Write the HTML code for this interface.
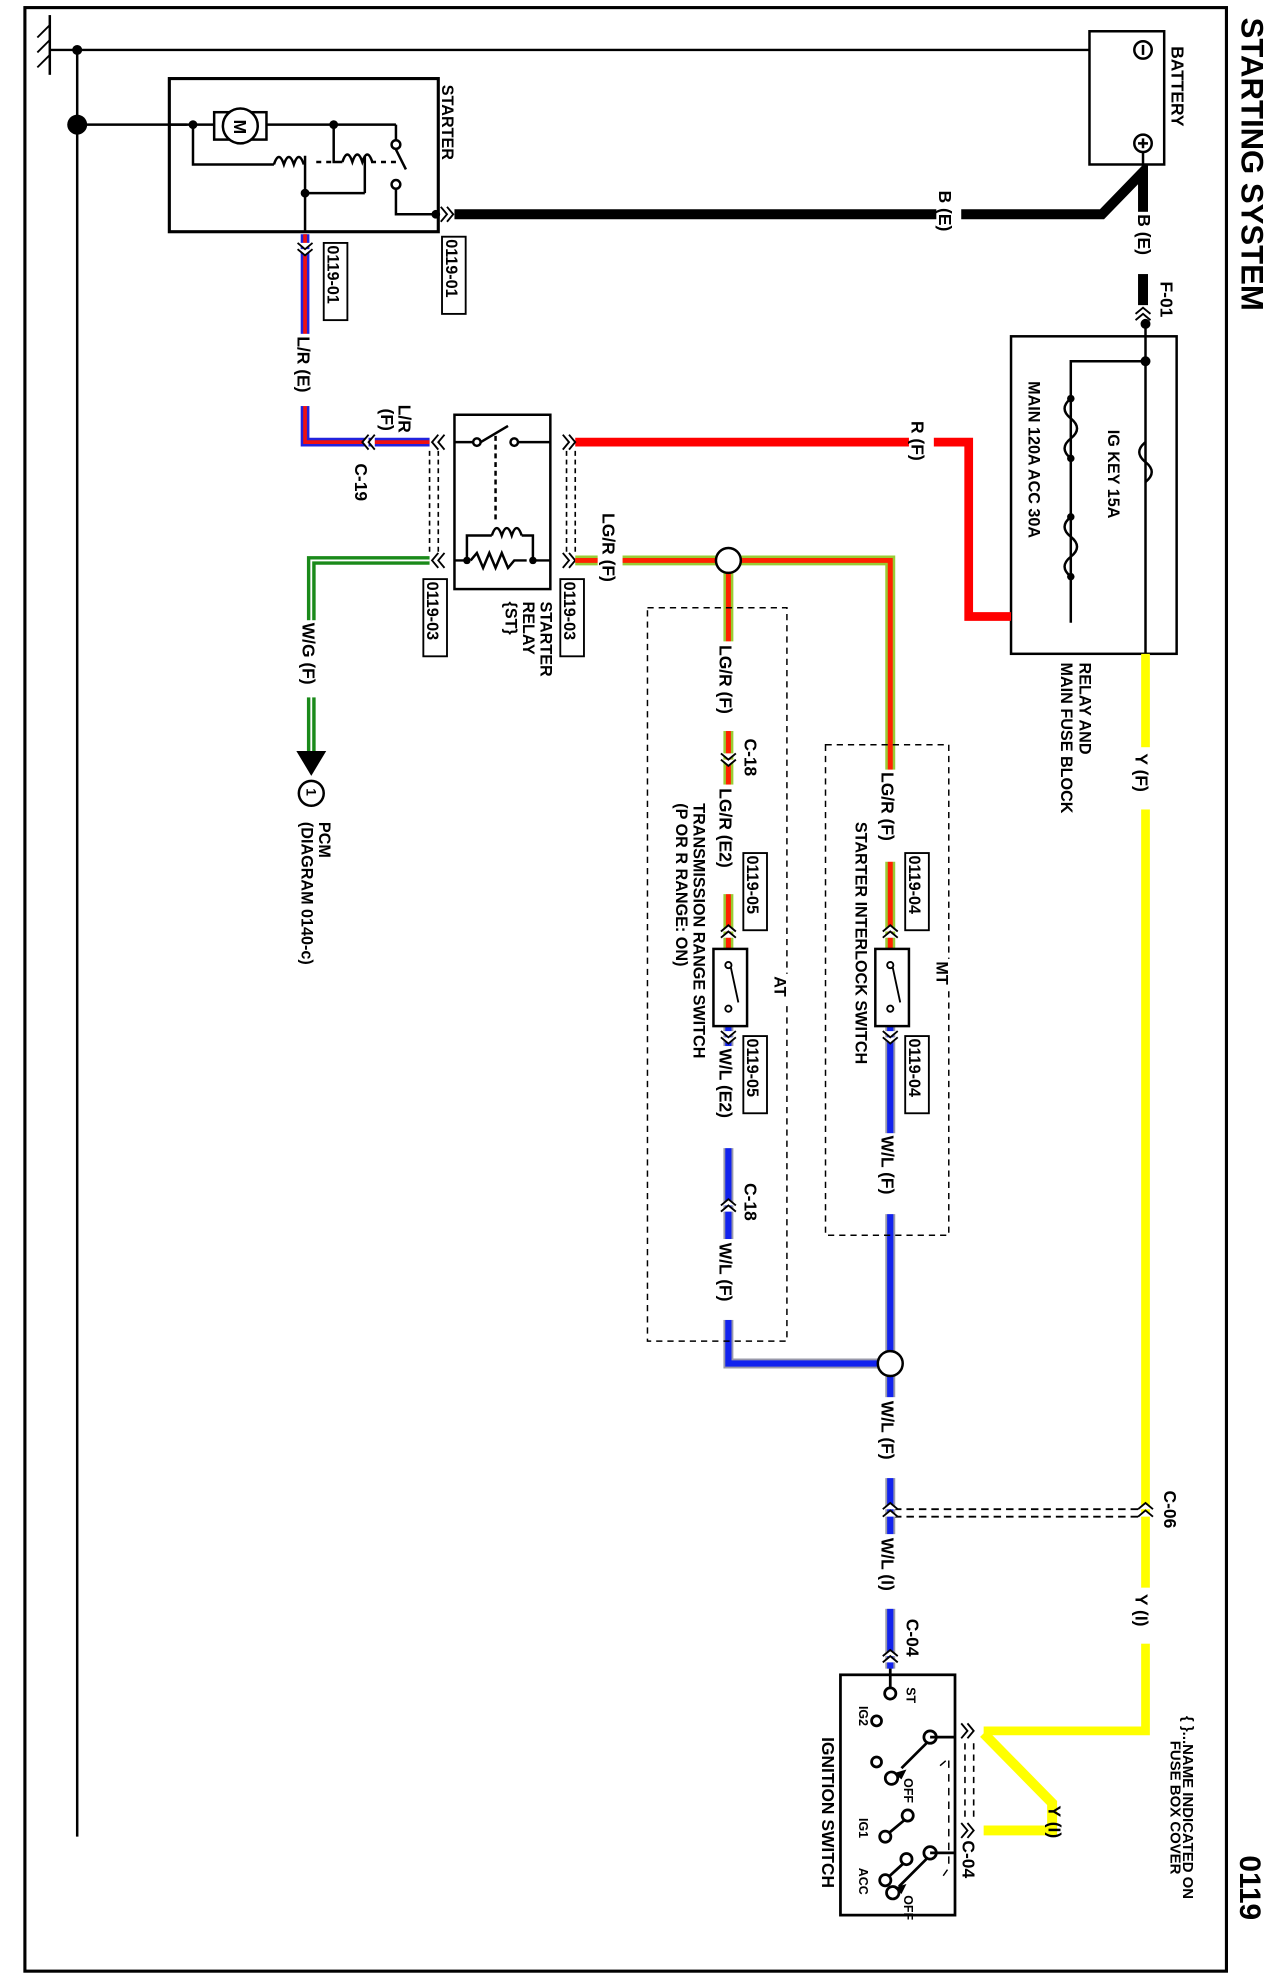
<!DOCTYPE html>
<html><head><meta charset="utf-8"><style>
html,body{margin:0;padding:0;background:#fff}
svg{display:block}
text{font-family:"Liberation Sans",Arial,sans-serif;font-weight:bold;fill:#000}
</style></head><body>
<svg width="1275" height="1980" viewBox="0 0 1024 1590" xmlns="http://www.w3.org/2000/svg">
<rect x="0" y="0" width="1024" height="1590" fill="#fff"/>
<rect x="20" y="6" width="965" height="1577" fill="none" stroke="#000" stroke-width="2.5"/>
<text transform="translate(997,14) rotate(90)" font-size="25" font-weight="normal">STARTING SYSTEM</text>
<text transform="translate(996,1490) rotate(90)" font-size="24" font-weight="normal">0119</text>

<line x1="40" y1="12" x2="40" y2="60" stroke="#000" stroke-width="2"/>
<line x1="40" y1="20" x2="30" y2="30" stroke="#000" stroke-width="1.5"/>
<line x1="40" y1="32" x2="30" y2="42" stroke="#000" stroke-width="1.5"/>
<line x1="40" y1="44" x2="30" y2="54" stroke="#000" stroke-width="1.5"/>
<line x1="40" y1="40" x2="905" y2="40" stroke="#000" stroke-width="2"/>
<line x1="62" y1="40" x2="62" y2="1475" stroke="#000" stroke-width="2"/>
<circle cx="62" cy="40" r="4"/>
<circle cx="62" cy="100" r="8"/>
<line x1="62" y1="100" x2="150" y2="100" stroke="#000" stroke-width="2"/>

<rect x="136" y="63" width="216" height="123" fill="none" stroke="#000" stroke-width="2.5"/>
<text transform="translate(355,68) rotate(90)" font-size="13">STARTER</text>
<g stroke="#000" stroke-width="2" fill="none">
<line x1="136" y1="100" x2="172" y2="100"/>
<rect x="172" y="90" width="42" height="22" fill="#fff"/>
<circle cx="193" cy="101" r="14" fill="#fff"/>
<line x1="214" y1="100" x2="318" y2="100"/>
<line x1="318" y1="100" x2="318" y2="112"/>
<circle cx="318" cy="116" r="3.5"/>
<line x1="318" y1="120" x2="326" y2="136"/>
<circle cx="318" cy="148" r="3.5"/>
<polyline points="318,152 318,172 350,172"/>
<polyline points="155,100 155,132 220,132"/>
<path d="M220,132 q4,-12 8,0 q4,-12 8,0 q4,-12 8,0"/>
<line x1="245" y1="125" x2="245" y2="186"/>
<line x1="245" y1="155" x2="293" y2="155"/>
<polyline points="268,100 268,130 275,130"/>
<path d="M275,130 q4,-12 8,0 q4,-12 8,0 q4,-12 8,0"/>
<polyline points="293,125 293,155"/>
<line x1="254" y1="130" x2="268" y2="130" stroke-dasharray="4,4"/>
<line x1="298" y1="130" x2="318" y2="130" stroke-dasharray="4,4"/>
</g>
<text transform="translate(188,96) rotate(90)" font-size="14" font-weight="normal">M</text>
<circle cx="155" cy="100" r="3.5"/><circle cx="268" cy="100" r="3.5"/><circle cx="245" cy="155" r="3.5"/>
<circle cx="350" cy="172" r="3.5"/>

<polyline points="365,172 885,172 918,138 918,245" fill="none" stroke="#000" stroke-width="8"/>
<path d="M354,166 l5,6 l-5,6 M359,166 l5,6 l-5,6" stroke="#000" fill="none" stroke-width="1.5"/>
<rect x="752" y="150" width="20" height="50" fill="#fff"/>
<text transform="translate(754,153) rotate(90)" font-size="14">B (E)</text>
<rect x="912" y="170" width="20" height="50" fill="#fff"/>
<text transform="translate(914,172) rotate(90)" font-size="14">B (E)</text>
<rect x="355" y="190" width="19" height="62" fill="#fff" stroke="#000" stroke-width="1.5"/>
<text transform="translate(358,192) rotate(90)" font-size="13">0119-01</text>

<rect x="875" y="25" width="60" height="107" fill="#fff" stroke="#000" stroke-width="2"/>
<circle cx="918" cy="40" r="7" fill="#fff" stroke="#000" stroke-width="2"/>
<line x1="918" y1="36" x2="918" y2="44" stroke="#000" stroke-width="2"/>
<circle cx="918" cy="115" r="7" fill="#fff" stroke="#000" stroke-width="2"/>
<path d="M914,115 h8 M918,111 v8" stroke="#000" stroke-width="2"/>
<line x1="918" y1="122" x2="918" y2="138" stroke="#000" stroke-width="2"/>
<text transform="translate(941,37) rotate(90)" font-size="14">BATTERY</text>
<path d="M912,252 l6,-5 l6,5 M912,257 l6,-5 l6,5" stroke="#000" fill="none" stroke-width="1.5"/>
<text transform="translate(932,226) rotate(90)" font-size="14">F-01</text>

<rect x="812" y="270" width="133" height="255" fill="none" stroke="#000" stroke-width="2"/>
<g stroke="#000" stroke-width="2" fill="none">
<line x1="920" y1="258" x2="920" y2="525"/>
<polyline points="920,290 860,290 860,500"/>
<path d="M920,355 q-10,8 0,16 q10,8 0,16"/>
</g>
<circle cx="920" cy="260" r="4"/><circle cx="920" cy="290" r="4"/>
<g stroke="#000" stroke-width="2" fill="none">
<path d="M860,320 q-10,8 0,16 q10,8 0,16 q-10,8 0,16"/>
<path d="M860,415 q-10,8 0,16 q10,8 0,16 q-10,8 0,16"/>
</g>
<circle cx="860" cy="320" r="3"/><circle cx="860" cy="368" r="3"/><circle cx="860" cy="415" r="3"/><circle cx="860" cy="463" r="3"/>
<text transform="translate(890,345) rotate(90)" font-size="13">IG KEY  15A</text>
<text transform="translate(826,306) rotate(90)" font-size="13">MAIN  120A     ACC  30A</text>
<text transform="translate(867,532) rotate(90)" font-size="13">RELAY AND</text>
<text transform="translate(852,532) rotate(90)" font-size="13">MAIN FUSE BLOCK</text>

<polyline points="812,495 778,495 778,355 462,355" fill="none" stroke="#f00" stroke-width="7"/>
<rect x="730" y="335" width="20" height="45" fill="#fff"/>
<text transform="translate(732,338) rotate(90)" font-size="14">R (F)</text>

<polyline points="920,525 920,1390 790,1390" fill="none" stroke="#ff0" stroke-width="7"/>
<polyline points="790,1392 845,1448 845,1470 790,1470" fill="none" stroke="#ff0" stroke-width="8"/>
<rect x="905" y="600" width="28" height="50" fill="#fff"/>
<text transform="translate(912,605) rotate(90)" font-size="14">Y (F)</text>
<rect x="905" y="1275" width="28" height="45" fill="#fff"/>
<text transform="translate(912,1280) rotate(90)" font-size="14">Y (I)</text>
<path d="M914,1212 l6,-5 l6,5 M914,1218 l6,-5 l6,5" stroke="#000" fill="#fff" stroke-width="1.5"/>
<text transform="translate(935,1197) rotate(90)" font-size="14">C-06</text>
<line x1="718" y1="1212" x2="918" y2="1212" stroke="#000" stroke-width="1.5" stroke-dasharray="6,4"/>
<line x1="718" y1="1218" x2="918" y2="1218" stroke="#000" stroke-width="1.5" stroke-dasharray="6,4"/>
<text transform="translate(842,1450) rotate(90)" font-size="14">Y (I)</text>

<rect x="365" y="333" width="77" height="140" fill="#fff" stroke="#000" stroke-width="2"/>
<g stroke="#000" stroke-width="2" fill="none">
<line x1="365" y1="355" x2="380" y2="355"/>
<circle cx="383" cy="355" r="3"/>
<line x1="386" y1="355" x2="408" y2="342"/>
<circle cx="413" cy="355" r="3"/>
<line x1="416" y1="355" x2="442" y2="355"/>
<line x1="398" y1="350" x2="398" y2="420" stroke-dasharray="4,3"/>
<polyline points="365,450 375,450 375,430 395,430"/>
<path d="M395,430 q4,-12 8,0 q4,-12 8,0 q4,-12 8,0"/>
<polyline points="419,430 428,430 428,450 442,450"/>
<path d="M378,450 l5,-6 l5,12 l5,-12 l5,12 l5,-12 l5,12 l5,-6 l10,0"/>
</g>
<circle cx="375" cy="450" r="3"/><circle cx="428" cy="450" r="3"/>
<text transform="translate(434,483) rotate(90)" font-size="13">STARTER</text>
<text transform="translate(420,483) rotate(90)" font-size="13">RELAY</text>
<text transform="translate(406,483) rotate(90)" font-size="13">{ST}</text>
<g stroke="#000" stroke-width="1.3" stroke-dasharray="4,3">
<line x1="345" y1="362" x2="345" y2="445"/><line x1="352" y1="362" x2="352" y2="445"/>
<line x1="455" y1="362" x2="455" y2="445"/><line x1="462" y1="362" x2="462" y2="445"/>
</g>
<path d="M452,349 l5,6 l-5,6 M457,349 l5,6 l-5,6 M452,444 l5,6 l-5,6 M457,444 l5,6 l-5,6" stroke="#000" fill="none" stroke-width="1.5"/>
<path d="M352,349 l-5,6 l5,6 M357,349 l-5,6 l5,6 M352,444 l-5,6 l5,6 M357,444 l-5,6 l5,6" stroke="#000" fill="none" stroke-width="1.5"/>
<rect x="450" y="465" width="19" height="62" fill="#fff" stroke="#000" stroke-width="1.5"/>
<text transform="translate(453,467) rotate(90)" font-size="13">0119-03</text>
<rect x="340" y="465" width="19" height="62" fill="#fff" stroke="#000" stroke-width="1.5"/>
<text transform="translate(343,467) rotate(90)" font-size="13">0119-03</text>

<polyline points="245,188 245,355 345,355" fill="none" stroke="#22d" stroke-width="7"/>
<polyline points="245,188 245,355 345,355" fill="none" stroke="#e11" stroke-width="3"/>
<path d="M239,195 l6,5 l6,-5 M239,200 l6,5 l6,-5" stroke="#000" fill="#fff" stroke-width="1.5"/>
<path d="M296,349 l-5,6 l5,6 M301,349 l-5,6 l5,6" stroke="#000" fill="#fff" stroke-width="1.5"/>
<rect x="260" y="195" width="19" height="62" fill="#fff" stroke="#000" stroke-width="1.5"/>
<text transform="translate(263,197) rotate(90)" font-size="13">0119-01</text>
<rect x="236" y="268" width="20" height="58" fill="#fff"/>
<text transform="translate(239,270) rotate(90)" font-size="14">L/R (E)</text>
<text transform="translate(320,325) rotate(90)" font-size="14">L/R</text>
<text transform="translate(306,328) rotate(90)" font-size="14">(F)</text>
<text transform="translate(285,372) rotate(90)" font-size="14">C-19</text>

<polyline points="345,450 250,450 250,605" fill="none" stroke="#1a8a1a" stroke-width="7"/>
<polyline points="345,450 250,450 250,605" fill="none" stroke="#fff" stroke-width="1.5"/>
<path d="M238,603 h24 l-12,20 z"/>
<circle cx="250" cy="637" r="10" fill="#fff" stroke="#000" stroke-width="2"/>
<text transform="translate(246,633) rotate(90)" font-size="11">1</text>
<rect x="240" y="498" width="20" height="62" fill="#fff"/>
<text transform="translate(243,500) rotate(90)" font-size="14">W/G (F)</text>
<text transform="translate(256,660) rotate(90)" font-size="13">PCM</text>
<text transform="translate(242,660) rotate(90)" font-size="13">(DIAGRAM 0140-c)</text>

<g fill="none">
<polyline points="462,450 715,450 715,770" stroke="#9c3" stroke-width="8"/>
<polyline points="462,450 715,450 715,770" stroke="#f20" stroke-width="4"/>
<polyline points="585,450 585,770" stroke="#9c3" stroke-width="8"/>
<polyline points="585,450 585,770" stroke="#f20" stroke-width="4"/>
<polyline points="715,820 715,1340" stroke="#99a" stroke-width="8"/>
<polyline points="715,820 715,1340" stroke="#12e" stroke-width="5"/>
<polyline points="585,820 585,1095 715,1095" stroke="#99a" stroke-width="8"/>
<polyline points="585,820 585,1095 715,1095" stroke="#12e" stroke-width="5"/>
</g>
<circle cx="585" cy="450" r="10" fill="#fff" stroke="#000" stroke-width="2"/>
<circle cx="715" cy="1095" r="10" fill="#fff" stroke="#000" stroke-width="2"/>
<rect x="480" y="410" width="20" height="72" fill="#fff"/>
<text transform="translate(484,412) rotate(90)" font-size="14">LG/R (F)</text>

<rect x="520" y="488" width="112" height="589" fill="none" stroke="#000" stroke-width="1.2" stroke-dasharray="5,4"/>
<rect x="663" y="598" width="99" height="394" fill="none" stroke="#000" stroke-width="1.2" stroke-dasharray="5,4"/>
<rect x="750" y="770" width="20" height="25" fill="#fff"/>
<text transform="translate(752,772) rotate(90)" font-size="13">MT</text>
<rect x="620" y="782" width="20" height="25" fill="#fff"/>
<text transform="translate(622,784) rotate(90)" font-size="13">AT</text>

<rect x="574" y="515" width="22" height="72" fill="#fff"/>
<text transform="translate(578,518) rotate(90)" font-size="14">LG/R (F)</text>
<path d="M579,605 l6,5 l6,-5 M579,610 l6,5 l6,-5" stroke="#000" fill="#fff" stroke-width="1.5"/>
<text transform="translate(598,593) rotate(90)" font-size="14">C-18</text>
<rect x="574" y="630" width="22" height="88" fill="#fff"/>
<text transform="translate(578,633) rotate(90)" font-size="14">LG/R (E2)</text>
<path d="M579,748 l6,-5 l6,5 M579,753 l6,-5 l6,5" stroke="#000" fill="#fff" stroke-width="1.5"/>
<rect x="597" y="685" width="19" height="62" fill="#fff" stroke="#000" stroke-width="1.5"/>
<text transform="translate(600,687) rotate(90)" font-size="13">0119-05</text>
<rect x="573" y="762" width="27" height="62" fill="#fff" stroke="#000" stroke-width="2"/>
<g stroke="#000" stroke-width="1.5" fill="none"><circle cx="585" cy="775" r="2.5"/><line x1="587" y1="777" x2="593" y2="805"/><circle cx="585" cy="810" r="2.5"/></g>
<path d="M579,828 l6,5 l6,-5 M579,833 l6,5 l6,-5" stroke="#000" fill="#fff" stroke-width="1.5"/>
<rect x="597" y="832" width="19" height="62" fill="#fff" stroke="#000" stroke-width="1.5"/>
<text transform="translate(600,834) rotate(90)" font-size="13">0119-05</text>
<rect x="574" y="840" width="22" height="82" fill="#fff"/>
<text transform="translate(578,842) rotate(90)" font-size="14">W/L (E2)</text>
<path d="M579,968 l6,-5 l6,5 M579,973 l6,-5 l6,5" stroke="#000" fill="#fff" stroke-width="1.5"/>
<text transform="translate(598,950) rotate(90)" font-size="14">C-18</text>
<rect x="574" y="995" width="22" height="65" fill="#fff"/>
<text transform="translate(578,998) rotate(90)" font-size="14">W/L (F)</text>
<text transform="translate(557,645) rotate(90)" font-size="13">TRANSMISSION RANGE SWITCH</text>
<text transform="translate(543,645) rotate(90)" font-size="13">(P OR R RANGE: ON)</text>

<rect x="704" y="618" width="22" height="74" fill="#fff"/>
<text transform="translate(708,620) rotate(90)" font-size="14">LG/R (F)</text>
<rect x="727" y="685" width="19" height="62" fill="#fff" stroke="#000" stroke-width="1.5"/>
<text transform="translate(730,687) rotate(90)" font-size="13">0119-04</text>
<path d="M709,748 l6,-5 l6,5 M709,753 l6,-5 l6,5" stroke="#000" fill="#fff" stroke-width="1.5"/>
<rect x="703" y="762" width="27" height="62" fill="#fff" stroke="#000" stroke-width="2"/>
<g stroke="#000" stroke-width="1.5" fill="none"><circle cx="715" cy="775" r="2.5"/><line x1="717" y1="777" x2="723" y2="805"/><circle cx="715" cy="810" r="2.5"/></g>
<path d="M709,828 l6,5 l6,-5 M709,833 l6,5 l6,-5" stroke="#000" fill="#fff" stroke-width="1.5"/>
<rect x="727" y="832" width="19" height="62" fill="#fff" stroke="#000" stroke-width="1.5"/>
<text transform="translate(730,834) rotate(90)" font-size="13">0119-04</text>
<rect x="704" y="910" width="22" height="65" fill="#fff"/>
<text transform="translate(708,912) rotate(90)" font-size="14">W/L (F)</text>
<text transform="translate(687,660) rotate(90)" font-size="13">STARTER INTERLOCK SWITCH</text>

<rect x="704" y="1122" width="22" height="65" fill="#fff"/>
<text transform="translate(708,1125) rotate(90)" font-size="14">W/L (F)</text>
<path d="M709,1212 l6,-5 l6,5 M709,1218 l6,-5 l6,5" stroke="#000" fill="#fff" stroke-width="1.5"/>
<rect x="704" y="1232" width="22" height="60" fill="#fff"/>
<text transform="translate(708,1235) rotate(90)" font-size="14">W/L (I)</text>
<path d="M709,1330 l6,-5 l6,5 M709,1335 l6,-5 l6,5" stroke="#000" fill="#fff" stroke-width="1.5"/>
<text transform="translate(728,1300) rotate(90)" font-size="14">C-04</text>

<rect x="675" y="1345" width="92" height="193" fill="none" stroke="#000" stroke-width="2.2"/>
<g stroke="#000" stroke-width="2.2" fill="none">
<line x1="715" y1="1340" x2="715" y2="1355"/>
<circle cx="715" cy="1360" r="4.5"/>
<circle cx="704" cy="1382" r="4"/>
<circle cx="704" cy="1415" r="4"/>
<circle cx="747" cy="1395" r="5"/>
<line x1="747" y1="1395" x2="767" y2="1395"/>
<line x1="744" y1="1400" x2="724" y2="1420"/>
<circle cx="716" cy="1428" r="5"/>
<circle cx="729" cy="1458" r="4.5"/>
<circle cx="711" cy="1475" r="4.5"/>
<line x1="726" y1="1462" x2="714" y2="1472"/>
<circle cx="747" cy="1488" r="5"/>
<line x1="747" y1="1488" x2="767" y2="1488"/>
<circle cx="728" cy="1493" r="4.5"/>
<circle cx="711" cy="1510" r="4.5"/>
<line x1="725" y1="1497" x2="714" y2="1507"/>
<line x1="744" y1="1493" x2="722" y2="1515"/>
<circle cx="717" cy="1520" r="5"/>
<polyline points="755,1418 762,1412 762,1500 755,1510" stroke-width="1.2" stroke-dasharray="6,5"/>
</g>
<path d="M718,1424 l10,-3 l-4,8 z M718,1516 l10,-3 l-4,8 z"/>
<text transform="translate(728,1355) rotate(90)" font-size="10">ST</text>
<text transform="translate(690,1370) rotate(90)" font-size="10">IG2</text>
<text transform="translate(726,1428) rotate(90)" font-size="10">OFF</text>
<text transform="translate(690,1460) rotate(90)" font-size="10">IG1</text>
<text transform="translate(690,1500) rotate(90)" font-size="10">ACC</text>
<text transform="translate(726,1522) rotate(90)" font-size="10">OFF</text>
<text transform="translate(660,1395) rotate(90)" font-size="14">IGNITION SWITCH</text>
<path d="M772,1384 l5,6 l-5,6 M777,1384 l5,6 l-5,6 M772,1464 l5,6 l-5,6 M777,1464 l5,6 l-5,6" stroke="#000" fill="none" stroke-width="1.5"/>
<g stroke="#000" stroke-width="1.3" stroke-dasharray="5,4">
<line x1="775" y1="1400" x2="775" y2="1460"/><line x1="782" y1="1400" x2="782" y2="1460"/>
</g>
<text transform="translate(773,1478) rotate(90)" font-size="14">C-04</text>
<text transform="translate(950,1378) rotate(90)" font-size="12">{ }...NAME INDICATED ON</text>
<text transform="translate(940,1398) rotate(90)" font-size="12">FUSE BOX COVER</text>
</svg>
</body></html>
